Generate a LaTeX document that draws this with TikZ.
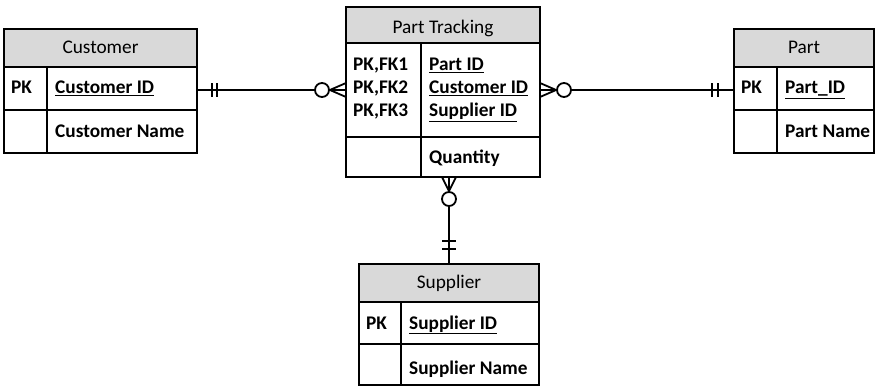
\documentclass[tikz,border=0pt]{standalone}
\usepackage{fontspec}
\setmainfont{Carlito}
\begin{document}
\begin{tikzpicture}[x=1pt,y=-1pt,
  tcell/.style={draw, line width=1.3pt, inner sep=0pt, outer sep=0pt, anchor=north west, minimum width=#1},
  hdr/.style={tcell=#1, fill=gray!30},
  txtstyle/.style={inner sep=0pt, font=\fontsize{19.3pt}{23pt}\selectfont},
  htxt/.style={txtstyle, anchor=base},
  ktxt/.style={txtstyle, anchor=base west, font=\fontsize{19.3pt}{23pt}\selectfont\bfseries},
  divline/.style={line width=1.3pt},
  conn/.style={line width=1.8pt},
  crc/.style={circle, draw, line width=1.8pt, fill=white, minimum size=14pt, inner sep=0pt}
]
\useasboundingbox (0,0) rectangle (878,387);

% Customer
\node[hdr=193, minimum height=38] (custH) at (4,29) {};
\node[tcell=193, minimum height=43] (custR1) at (4,67) {};
\node[tcell=193, minimum height=43] (custR2) at (4,110) {};
\draw[divline] (47,67) -- (47,153);
\node[htxt] (custT) at (100.5,54) {Customer};
\node[ktxt] (custK) at (11,94) {PK};
\node[ktxt] (custF1) at (55,94) {\underline{Customer ID}};
\node[ktxt] (custF2) at (55,138) {Customer Name};

% Part Tracking
\node[hdr=194, minimum height=36] (ptH) at (346,7) {};
\node[tcell=194, minimum height=94] (ptR1) at (346,43) {};
\node[tcell=194, minimum height=40] (ptR2) at (346,137) {};
\draw[divline] (421,43) -- (421,177);
\node[htxt] (ptT) at (443,34) {Part Tracking};
\node[ktxt] (ptK1) at (353,71) {PK,FK1};
\node[ktxt] (ptK2) at (353,94) {PK,FK2};
\node[ktxt] (ptK3) at (353,117) {PK,FK3};
\node[ktxt] (ptF1) at (429,71) {\underline{Part ID}};
\node[ktxt] (ptF2) at (429,94) {\underline{Customer ID}};
\node[ktxt] (ptF3) at (429,117) {\underline{Supplier ID}};
\node[ktxt] (ptF4) at (429,164) {Quantity};

% Part
\node[hdr=140, minimum height=38] (partH) at (734,29) {};
\node[tcell=140, minimum height=43] (partR1) at (734,67) {};
\node[tcell=140, minimum height=43] (partR2) at (734,110) {};
\draw[divline] (777,67) -- (777,153);
\node[htxt] (partT) at (804,54) {Part};
\node[ktxt] (partK) at (741,94) {PK};
\node[ktxt] (partF1) at (785,94) {\underline{Part\_ID}};
\node[ktxt] (partF2) at (785,138) {Part Name};

% Supplier
\node[hdr=180, minimum height=38] (supH) at (359,264) {};
\node[tcell=180, minimum height=42] (supR1) at (359,302) {};
\node[tcell=180, minimum height=41] (supR2) at (359,344) {};
\draw[divline] (401,302) -- (401,385);
\node[htxt] (supT) at (449,289) {Supplier};
\node[ktxt] (supK) at (366,329) {PK};
\node[ktxt] (supF1) at (409,329) {\underline{Supplier ID}};
\node[ktxt] (supF2) at (409,374) {Supplier Name};

% Customer -- Part Tracking
\coordinate (cA) at (custR1.east |- ptR1.west);
\node[crc] (c1) at (322,90) {};
\draw[conn] (cA) -- (c1.west);
\draw[conn] ([xshift=15pt,yshift=-7pt]cA) -- ([xshift=15pt,yshift=7pt]cA);
\draw[conn] ([xshift=20pt,yshift=-7pt]cA) -- ([xshift=20pt,yshift=7pt]cA);
\draw[conn] ([yshift=-7pt]ptR1.west) -- (c1.east) -- ([yshift=7pt]ptR1.west);
\draw[conn] (c1.east) -- (ptR1.west);

% Part Tracking -- Part
\coordinate (pA) at (partR1.west |- ptR1.east);
\node[crc] (c2) at (564,90) {};
\draw[conn] (c2.east) -- (pA);
\draw[conn] ([xshift=-22pt,yshift=-7pt]pA) -- ([xshift=-22pt,yshift=7pt]pA);
\draw[conn] ([xshift=-16pt,yshift=-7pt]pA) -- ([xshift=-16pt,yshift=7pt]pA);
\draw[conn] ([yshift=-7pt]ptR1.east) -- (c2.west) -- ([yshift=7pt]ptR1.east);
\draw[conn] (ptR1.east) -- (c2.west);

% Part Tracking -- Supplier
\coordinate (bA) at (ptR2.south -| supH.north);
\coordinate (sA) at (supH.north);
\node[crc] (c3) at (449,199) {};
\draw[conn] (c3.south) -- (sA);
\draw[conn] ([xshift=-7pt,yshift=23pt]sA) -- ([xshift=7pt,yshift=23pt]sA);
\draw[conn] ([xshift=-7pt,yshift=15pt]sA) -- ([xshift=7pt,yshift=15pt]sA);
\draw[conn] ([xshift=-7pt]bA) -- (c3.north) -- ([xshift=7pt]bA);
\draw[conn] (bA) -- (c3.north);
\end{tikzpicture}
\end{document}
